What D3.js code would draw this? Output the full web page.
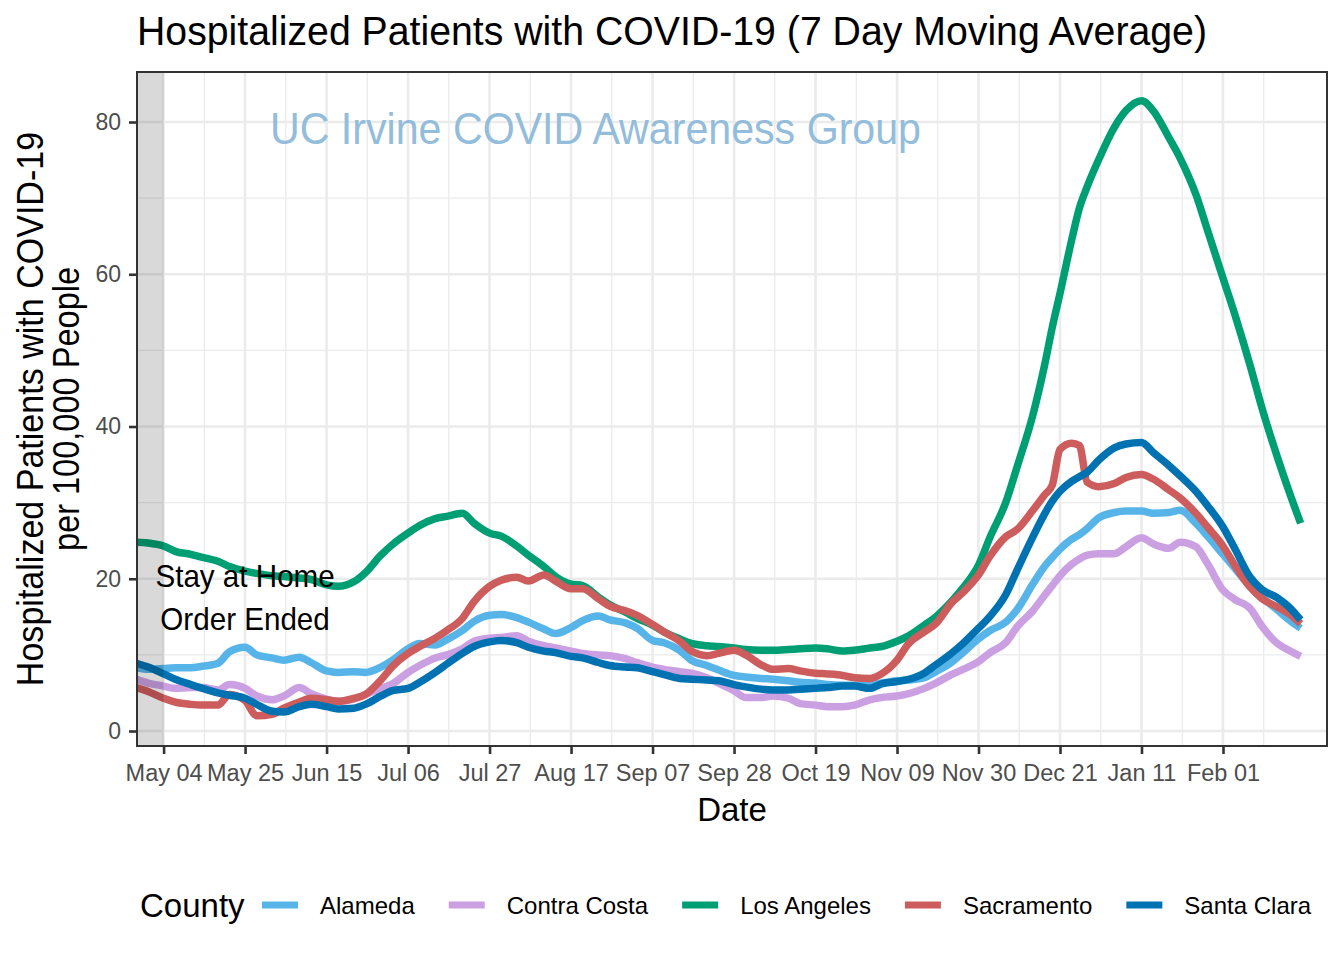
<!DOCTYPE html>
<html><head><meta charset="utf-8">
<script src="https://cdn.jsdelivr.net/npm/d3@7"></script>
<style>body{margin:0;background:#fff}svg{display:block}text{font-family:"Liberation Sans",Arial,Helvetica,sans-serif}</style>
</head><body><svg id="c" width="1344" height="960"></svg>
<script>
const dates = [
"2020-04-27","2020-04-30","2020-05-04","2020-05-07","2020-05-11","2020-05-14","2020-05-18","2020-05-21","2020-05-25","2020-05-28",
"2020-06-01","2020-06-04","2020-06-08","2020-06-11","2020-06-15","2020-06-18","2020-06-22","2020-06-25","2020-06-29","2020-07-02",
"2020-07-06","2020-07-09","2020-07-13","2020-07-16","2020-07-20","2020-07-23","2020-07-27","2020-07-30","2020-08-03","2020-08-06",
"2020-08-10","2020-08-13","2020-08-17","2020-08-20","2020-08-24","2020-08-27","2020-08-31","2020-09-03","2020-09-07","2020-09-10",
"2020-09-14","2020-09-17","2020-09-21","2020-09-24","2020-09-28","2020-10-01","2020-10-05","2020-10-08","2020-10-12","2020-10-15",
"2020-10-19","2020-10-22","2020-10-26","2020-10-29","2020-11-02","2020-11-05","2020-11-09","2020-11-12","2020-11-16","2020-11-19",
"2020-11-23","2020-11-26","2020-11-30","2020-12-03","2020-12-07","2020-12-10","2020-12-14","2020-12-17","2020-12-19","2020-12-21",
"2020-12-24","2020-12-26","2020-12-28","2020-12-31","2021-01-04","2021-01-07","2021-01-11","2021-01-14","2021-01-18","2021-01-21",
"2021-01-25","2021-01-28","2021-02-01","2021-02-04","2021-02-08","2021-02-11","2021-02-15","2021-02-18","2021-02-21"];

const alameda = [
8.3,8.1,8.2,8.3,8.3,8.5,8.9,10.4,11.0,10.0,
9.6,9.3,9.7,9.0,7.9,7.7,7.8,7.7,8.4,9.3,
10.8,11.5,11.3,12.0,13.2,14.4,15.2,15.3,14.9,14.3,
13.4,12.8,13.6,14.5,15.1,14.6,14.2,13.5,11.9,11.6,
10.6,9.3,8.6,8.0,7.3,7.1,6.9,6.8,6.6,6.4,
6.3,6.1,6.0,6.0,6.1,6.3,6.6,6.7,7.0,7.8,
9.0,10.3,12.1,13.2,14.3,16.0,19.3,21.6,22.8,23.9,
25.2,25.8,26.6,28.0,28.7,28.9,28.9,28.6,28.7,29.0,
27.3,25.6,23.2,21.4,19.0,17.6,15.9,14.6,13.5];

const contraCosta = [
6.8,6.3,5.9,5.6,5.7,5.7,5.4,6.1,5.6,4.6,
4.1,4.6,5.7,4.9,4.2,3.9,4.2,4.8,5.6,6.2,
7.7,8.6,9.6,10.0,10.8,11.8,12.2,12.3,12.5,11.8,
11.2,10.9,10.5,10.2,10.0,9.9,9.5,9.0,8.4,8.1,
7.8,7.6,7.0,6.3,5.3,4.4,4.4,4.6,4.3,3.6,
3.4,3.2,3.2,3.4,4.1,4.4,4.6,4.9,5.6,6.3,
7.4,8.1,9.1,10.3,11.6,13.7,15.8,17.8,19.1,20.4,
21.9,22.6,23.1,23.3,23.3,24.2,25.4,24.6,24.0,24.8,
24.2,22.0,18.5,17.3,16.1,13.8,11.5,10.6,9.8];

const losAngeles = [
24.8,24.7,24.3,23.6,23.2,22.8,22.3,21.6,21.0,20.7,
20.4,20.3,20.1,19.9,19.2,19.0,19.6,20.8,23.1,24.5,
26.0,27.0,27.9,28.2,28.6,27.3,26.0,25.6,24.3,23.1,
21.6,20.3,19.3,19.1,17.6,16.6,15.6,14.8,13.9,13.0,
12.1,11.5,11.2,11.1,10.9,10.7,10.6,10.6,10.7,10.8,
10.9,10.8,10.5,10.6,10.9,11.1,11.8,12.5,13.9,15.0,
17.0,18.8,21.8,25.5,30.0,34.8,41.5,48.0,53.0,57.5,
64.5,68.7,71.5,75.1,79.3,81.5,82.8,81.5,78.0,75.2,
70.5,65.8,59.5,54.8,48.0,42.5,36.0,31.5,27.3];

const sacramento = [
5.7,5.2,4.3,3.8,3.5,3.4,3.4,4.8,4.0,2.0,
2.2,3.0,3.8,4.3,4.1,3.9,4.3,4.8,6.7,8.5,
10.2,11.1,12.2,13.2,14.8,17.0,19.0,19.8,20.2,19.7,
20.5,19.7,18.7,18.7,17.4,16.4,15.8,15.2,14.0,13.0,
11.8,10.5,9.9,10.2,10.6,10.0,8.7,8.1,8.2,7.9,
7.6,7.5,7.3,7.0,6.9,7.5,9.3,11.5,13.0,14.1,
16.8,18.2,20.5,23.0,25.5,26.5,29.0,31.0,32.3,37.0,
37.8,37.5,32.7,32.1,32.5,33.3,33.7,33.1,31.7,30.6,
28.6,26.8,24.3,21.8,18.9,17.4,16.3,15.4,14.1];

const santaClara = [
8.9,8.4,7.5,6.8,6.1,5.6,5.0,4.7,4.3,3.5,
2.6,2.5,3.2,3.5,3.2,2.9,3.0,3.5,4.6,5.3,
5.6,6.4,7.7,8.8,10.2,11.1,11.7,11.9,11.6,11.0,
10.5,10.3,9.8,9.6,9.0,8.6,8.4,8.3,7.8,7.4,
6.9,6.8,6.7,6.6,6.1,5.8,5.5,5.4,5.4,5.5,
5.6,5.7,5.9,5.9,5.6,6.2,6.5,6.8,7.6,8.7,
10.2,11.5,13.5,15.1,17.9,21.2,25.5,28.5,30.2,31.5,
32.8,33.4,34.0,35.6,37.2,37.7,37.9,36.6,34.9,33.5,
31.5,29.6,26.8,24.0,20.2,18.6,17.5,16.3,14.6];

const counties = ["Alameda","Contra Costa","Los Angeles","Sacramento","Santa Clara"];
const seriesValues = [alameda, contraCosta, losAngeles, sacramento, santaClara];
const colors = ["#56B4E9","#CBA0E3","#009E73","#CD5C5C","#0072B2"];

const xTickDates = ["2020-05-04","2020-05-25","2020-06-15","2020-07-06","2020-07-27","2020-08-17","2020-09-07","2020-09-28","2020-10-19","2020-11-09","2020-11-30","2020-12-21","2021-01-11","2021-02-01"];
const xTickLabels = ["May 04","May 25","Jun 15","Jul 06","Jul 27","Aug 17","Sep 07","Sep 28","Oct 19","Nov 09","Nov 30","Dec 21","Jan 11","Feb 01"];
const yTicks = [0,20,40,60,80];
const yMinor = [10,30,50,70];
const orderEnded = "2020-05-04";

const parse = d3.utcParse("%Y-%m-%d");
const svg = d3.select("#c");
const P = {l:137, r:1327, t:72, b:746};

const x = d3.scaleUtc()
  .domain([new Date(Date.UTC(2020,3,27,3,36)), new Date(Date.UTC(2021,1,27,19,12))])
  .range([P.l, P.r]);
const y = d3.scaleLinear().domain([-1.97, 86.57]).range([P.b, P.t]);

svg.append("rect").attr("x",P.l).attr("y",P.t).attr("width",P.r-P.l).attr("height",P.b-P.t).attr("fill","#fff");

const tickDates = xTickDates.map(parse);
const minorDates = [];
for (let i=0;i<tickDates.length;i++){
  const a = tickDates[i], b = i+1<tickDates.length ? tickDates[i+1] : d3.utcDay.offset(a,21);
  minorDates.push(new Date((+a + +b)/2));
}
const grid = svg.append("g");
grid.selectAll(".ymin").data(yMinor).join("line")
  .attr("x1",P.l).attr("x2",P.r).attr("y1",d=>y(d)).attr("y2",d=>y(d))
  .attr("stroke","#EBEBEB").attr("stroke-width",1.3);
grid.selectAll(".xmin").data(minorDates.filter(d=>x(d)>P.l && x(d)<P.r)).join("line")
  .attr("y1",P.t).attr("y2",P.b).attr("x1",d=>x(d)).attr("x2",d=>x(d))
  .attr("stroke","#EBEBEB").attr("stroke-width",1.3);
grid.selectAll(".ymaj").data(yTicks).join("line")
  .attr("x1",P.l).attr("x2",P.r).attr("y1",d=>y(d)).attr("y2",d=>y(d))
  .attr("stroke","#EBEBEB").attr("stroke-width",2.6);
grid.selectAll(".xmaj").data(tickDates).join("line")
  .attr("y1",P.t).attr("y2",P.b).attr("x1",d=>x(d)).attr("x2",d=>x(d))
  .attr("stroke","#EBEBEB").attr("stroke-width",2.6);

svg.append("text").attr("x",270).attr("y",144).attr("font-size",44)
  .attr("textLength",651).attr("lengthAdjust","spacingAndGlyphs")
  .attr("fill","#93BDDA").text("UC Irvine COVID Awareness Group");

svg.append("clipPath").attr("id","clip").append("rect")
  .attr("x",P.l).attr("y",P.t).attr("width",P.r-P.l).attr("height",P.b-P.t);
const pdates = dates.map(parse);
const line = d3.line().x((d,i)=>x(pdates[i])).y(d=>y(d)).curve(d3.curveMonotoneX);
const lg = svg.append("g").attr("clip-path","url(#clip)");
seriesValues.forEach((vals,k)=>{
  lg.append("path").attr("d",line(vals)).attr("fill","none")
    .attr("stroke",colors[k]).attr("stroke-width",7.5)
    .attr("stroke-linejoin","round").attr("stroke-linecap","butt");
});

svg.append("rect").attr("x",P.l).attr("y",P.t)
  .attr("width",x(parse(orderEnded))-P.l).attr("height",P.b-P.t)
  .attr("fill","#000").attr("fill-opacity",0.15);

const annX = x(parse("2020-05-25"));
const ann = svg.append("text").attr("font-size",31.5).attr("fill","#000").attr("text-anchor","middle")
  .attr("transform",`translate(${annX*(1-0.94)},0) scale(0.94,1)`);
ann.append("tspan").attr("x",annX).attr("y",587).text("Stay at Home");
ann.append("tspan").attr("x",annX).attr("y",630).text("Order Ended");

svg.append("rect").attr("x",P.l).attr("y",P.t).attr("width",P.r-P.l).attr("height",P.b-P.t)
  .attr("fill","none").attr("stroke","#333333").attr("stroke-width",2);

const xAxis = d3.axisBottom(x).tickValues(tickDates).tickSize(8).tickPadding(10)
  .tickFormat((d,i)=>xTickLabels[i]);
const gx = svg.append("g").attr("transform",`translate(0,${P.b})`).call(xAxis);
gx.select(".domain").remove();
gx.selectAll(".tick line").attr("stroke","#333333").attr("stroke-width",2.6);
gx.selectAll(".tick text").attr("font-size",23.5).attr("fill","#4D4D4D")
  .attr("font-family",'"Liberation Sans",Arial,sans-serif').attr("dy","0.71em");

const yAxis = d3.axisLeft(y).tickValues(yTicks).tickSize(8).tickPadding(8);
const gy = svg.append("g").attr("transform",`translate(${P.l},0)`).call(yAxis);
gy.select(".domain").remove();
gy.selectAll(".tick line").attr("stroke","#333333").attr("stroke-width",2.6);
gy.selectAll(".tick text").attr("font-size",23).attr("fill","#4D4D4D")
  .attr("font-family",'"Liberation Sans",Arial,sans-serif');

svg.append("text").attr("x",137).attr("y",45).attr("font-size",41)
  .attr("textLength",1070).attr("lengthAdjust","spacingAndGlyphs")
  .attr("fill","#000").text("Hospitalized Patients with COVID-19  (7 Day Moving Average)");

svg.append("text").attr("x",(P.l+P.r)/2).attr("y",821).attr("font-size",33)
  .attr("text-anchor","middle").attr("fill","#000").text("Date");
const yc = (P.t+P.b)/2;
svg.append("text").attr("transform",`translate(43,${yc}) rotate(-90) scale(0.92,1)`)
  .attr("font-size",37).attr("text-anchor","middle").attr("fill","#000")
  .text("Hospitalized Patients with COVID-19");
svg.append("text").attr("transform",`translate(79,${yc}) rotate(-90) scale(0.88,1)`)
  .attr("font-size",37).attr("text-anchor","middle").attr("fill","#000")
  .text("per 100,000 People");

const leg = svg.append("g");
leg.append("text").attr("x",140).attr("y",917).attr("font-size",33).attr("fill","#000").text("County");
let kx = 262;
counties.forEach((c,k)=>{
  leg.append("line").attr("x1",kx).attr("x2",kx+36).attr("y1",905).attr("y2",905)
    .attr("stroke",colors[k]).attr("stroke-width",7);
  const t = leg.append("text").attr("x",kx+58).attr("y",914).attr("font-size",24).attr("fill","#000").text(c);
  kx = kx + 58 + t.node().getComputedTextLength() + 34;
});
</script></body></html>
